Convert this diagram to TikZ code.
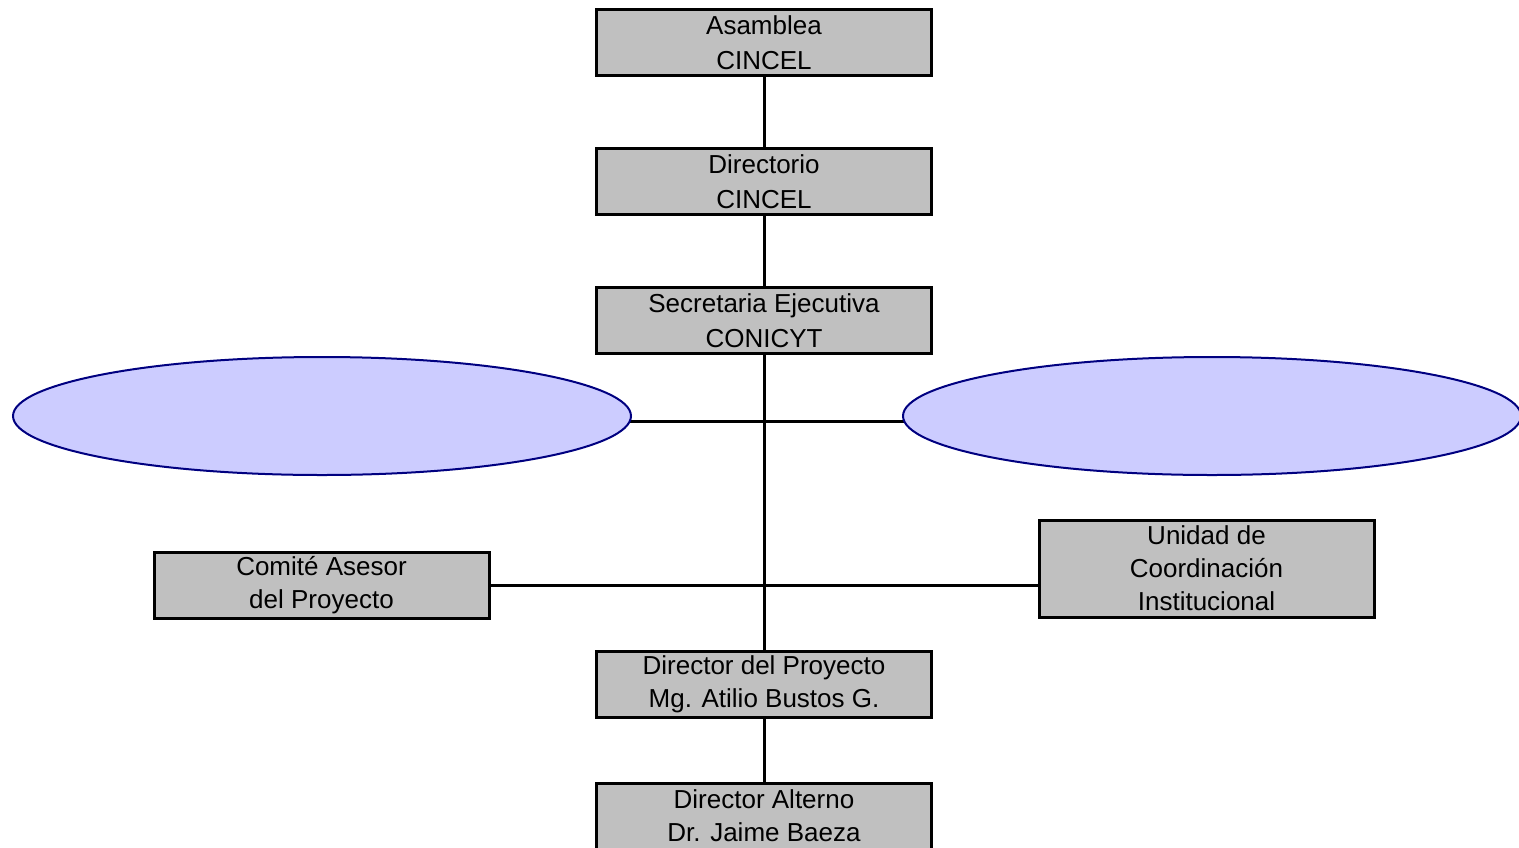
\documentclass[tikz,border=0pt]{standalone}
\usepackage{fontspec}
\setmainfont{Liberation Sans}
\usetikzlibrary{shapes.geometric,backgrounds}
\definecolor{boxgray}{HTML}{C0C0C0}
\definecolor{ellfill}{HTML}{CCCCFF}
\definecolor{ellline}{HTML}{000080}
\begin{document}
\begin{tikzpicture}[x=1pt,y=-1pt,
  orgbox/.style={draw=black, line width=3pt, fill=boxgray, minimum width=335pt, minimum height=66pt, inner sep=0pt, align=center, font=\fontsize{26}{35}\selectfont},
  oval/.style={ellipse, draw=ellline, fill=ellfill, line width=2pt, minimum width=618pt, minimum height=118pt, inner sep=0pt},
  conn/.style={draw=black, line width=3pt}]
\useasboundingbox (0,0) rectangle (1519,847);
\node[orgbox] (asam) at (764,42.5) {Asamblea\\CINCEL};
\node[orgbox] (dir) at (764,181.5) {Directorio\\CINCEL};
\node[orgbox] (sec) at (764,320.5) {Secretaria Ejecutiva\\CONICYT};
\node[oval] (e1) at (322,416) {};
\node[oval] (e2) at (1212,416) {};
\node[orgbox, font=\fontsize{26}{33}\selectfont] (com) at (321.5,585) {Comit\'e Asesor\\del Proyecto};
\node[orgbox, font=\fontsize{26}{33}\selectfont, minimum height=97pt] (uni) at (1206.5,568.5) {Unidad de\\Coordinaci\'on\\Institucional};
\node[orgbox, font=\fontsize{26}{33}\selectfont] (dp) at (764,684) {Director del Proyecto\\Mg. Atilio Bustos G.};
\node[orgbox, font=\fontsize{26}{33}\selectfont] (alt) at (764,816) {Director Alterno\\Dr. Jaime Baeza};
\begin{scope}[on background layer]
  \draw[conn] (asam.center) -- (alt.center);
  \draw[conn] ([yshift=-5pt]e1.center) -- ([yshift=-5pt]e2.center);
  \draw[conn] (com.center) -- (com.center -| uni.west);
\end{scope}
\end{tikzpicture}
\end{document}
